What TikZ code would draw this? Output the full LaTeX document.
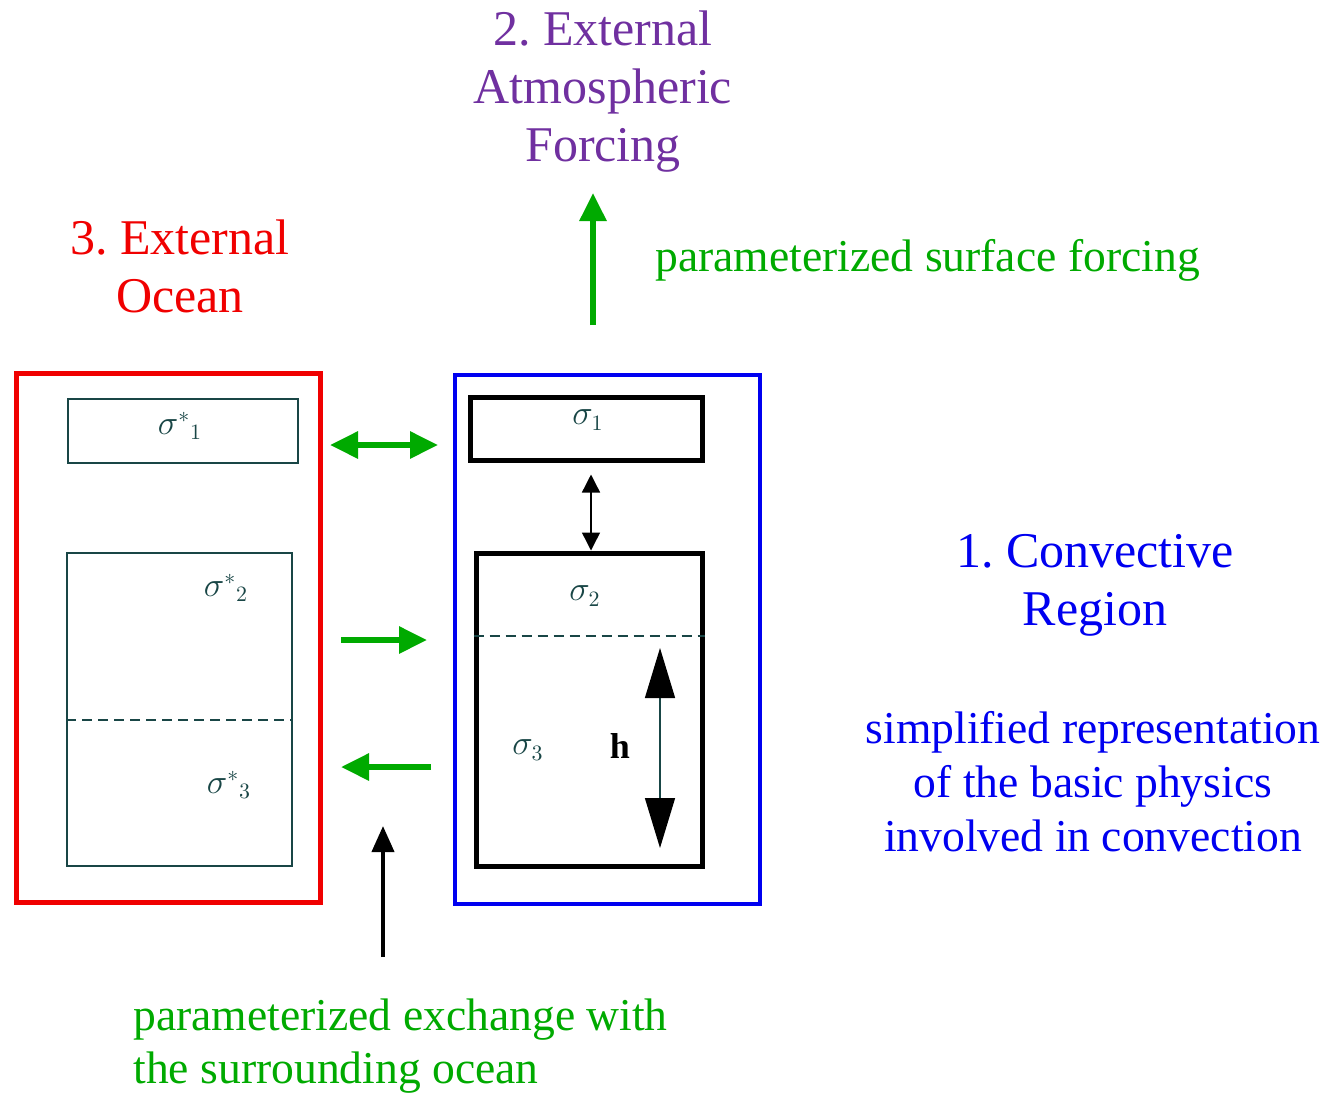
\documentclass[tikz,border=0pt]{standalone}
\usepackage{fontspec}
\setmainfont{Liberation Serif}
\usetikzlibrary{arrows.meta}
\definecolor{gr}{RGB}{0,170,0}
\definecolor{pu}{RGB}{112,48,160}
\definecolor{rd}{RGB}{240,0,0}
\definecolor{bl}{RGB}{0,0,240}
\definecolor{tl}{RGB}{25,70,70}
\tikzset{
  big/.style={font=\fontsize{25}{29}\selectfont, align=center, inner sep=0pt},
  thinbox/.style={draw=tl, line width=1pt, inner sep=0pt},
  thickbox/.style={draw=black, line width=2.5pt, inner sep=0pt},
  sig/.style={font=\fontsize{16}{18}\selectfont, text=tl, inner sep=0pt},
  garrow/.style={draw=gr, line width=3pt, -{Triangle[length=14pt,width=13pt]}},
  garrowd/.style={draw=gr, line width=3pt, {Triangle[length=14pt,width=13pt]}-{Triangle[length=14pt,width=13pt]}},
}
\begin{document}
\frenchspacing
\begin{tikzpicture}[x=0.5pt,y=-0.5pt]
\useasboundingbox (0,0) rectangle (1327,1094);
% titles
\node[big, text=pu] (atm) at (603,92) {2. External\\Atmospheric\\Forcing};
\node[big, text=rd] (ext) at (180,266) {3. External\\Ocean};
\node[big, text=bl] (conv) at (1095,585) {1. Convective\\Region};
\node[big, text=bl, font=\fontsize{22.8}{27}\selectfont] (simp) at (1093,782) {simplified representation\\of the basic physics\\involved in convection};
\node[big, text=gr, font=\fontsize{22.8}{29}\selectfont, anchor=west] (psf) at (655,260) {parameterized surface forcing};
\node[big, text=gr, font=\fontsize{22.8}{26.5}\selectfont, align=left, anchor=west] (pex) at (133,1046) {parameterized exchange with\\the surrounding ocean};
% outer boxes
\node[draw=rd, line width=2.5pt, minimum width=152pt, minimum height=264.5pt, inner sep=0pt] (red) at (168,637.5) {};
\node[draw=bl, line width=2pt, minimum width=152.5pt, minimum height=264.5pt, inner sep=0pt] (blue) at (607.5,639.5) {};
% left inner boxes
\node[thinbox, minimum width=115pt, minimum height=32pt] (ls1) at (183,431) {};
\node[thinbox, minimum width=112.5pt, minimum height=156.5pt] (lbig) at (179.5,709.5) {};
\draw[tl, line width=1pt, dashed, dash pattern=on 5pt off 3pt] (lbig.west |- 0,720) coordinate (ld1) -- (lbig.east |- 0,720) coordinate (ld2);
\node[sig] (t1) at (180,426) {$\sigma^{*}{}_{1}$};
\node[sig] (t2) at (226,588) {$\sigma^{*}{}_{2}$};
\node[sig] (t3) at (229,785) {$\sigma^{*}{}_{3}$};
% right inner boxes
\node[thickbox, minimum width=116pt, minimum height=31.5pt] (rs1) at (586,428.5) {};
\node[thickbox, minimum width=113pt, minimum height=156.5pt] (rbig) at (589,709.5) {};
\draw[tl, line width=0.8pt, dashed, dash pattern=on 5pt off 3pt] (rbig.west |- 0,636) coordinate (rd1) -- (rbig.east |- 0,636) coordinate (rd2);
\node[sig] (s1) at (588,420) {$\sigma_{1}$};
\node[sig] (s2) at (585,596) {$\sigma_{2}$};
\node[sig] (s3) at (528,750) {$\sigma_{3}$};
\node[sig, text=black, font=\fontsize{18}{20}\selectfont\bfseries] (hh) at (620,746) {h};
% black arrows
\draw[black, line width=0.7pt, {Triangle[length=9pt,width=9pt]}-{Triangle[length=9pt,width=9pt]}] (rs1.south -| 591,0) ++(0,12) coordinate (a1) -- (rbig.north -| 591,0) coordinate (a2);
\coordinate (h1) at (660,648);
\coordinate (h2) at (660,848);
\draw[tl, line width=0.7pt, {Triangle[length=25pt,width=15pt,fill=black,color=black]}-{Triangle[length=25pt,width=15pt,fill=black,color=black]}] (h1) -- (h2);
% green arrows
\coordinate (g1a) at (330,445); \coordinate (g1b) at (438,445);
\draw[garrowd] (g1a) -- (g1b);
\coordinate (g2a) at (341,640); \coordinate (g2b) at (427,640);
\draw[garrow] (g2a) -- (g2b);
\coordinate (g3a) at (431,767); \coordinate (g3b) at (341,767);
\draw[garrow] (g3a) -- (g3b);
\coordinate (g4a) at (593,325);
\draw[garrow] (g4a) -- (593,193) coordinate (g4b);
% black up arrow
\coordinate (k1) at (383,957);
\draw[black, line width=2pt, -{Triangle[length=13pt,width=11pt]}] (k1) -- (383,826) coordinate (k2);
\end{tikzpicture}
\end{document}
